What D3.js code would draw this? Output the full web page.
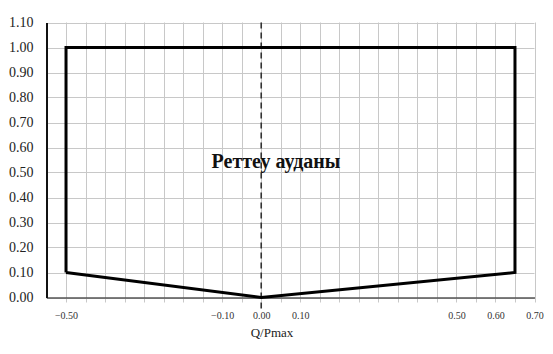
<!DOCTYPE html>
<html>
<head>
<meta charset="utf-8">
<script src="https://cdn.jsdelivr.net/npm/d3@7"></script>
<style>
body { margin: 0; background: #fff; }
svg text { font-family: "Liberation Serif", "Times New Roman", "DejaVu Serif", serif !important; }
</style>
</head>
<body>
<script>
var w = 553;
var h = 354;

// boundary of the regulation area (Q/Pmax, P/Pmax)
var qValues = [-0.50, -0.50, 0.65, 0.65, 0.00, -0.50];
var pValues = [0.10, 1.00, 1.00, 0.10, 0.00, 0.10];

var xTickLabels = [-0.50, -0.10, 0.00, 0.10, 0.50, 0.60, 0.70];
var yTickLabels = [0.00, 0.10, 0.20, 0.30, 0.40, 0.50, 0.60, 0.70, 0.80, 0.90, 1.00, 1.10];
var areaLabel = "Реттеу ауданы";
var xTitle = "Q/Pmax";

var xScale = d3.scaleLinear()
    .domain([-0.55, 0.70])
    .range([46.5, 534.5]);

var yScale = d3.scaleLinear()
    .domain([0, 1.10])
    .range([297.5, 22.5]);

var svg = d3.select("body")
    .append("svg")
    .attr("width", w)
    .attr("height", h);

// vertical grid every 0.05
var xGrid = d3.range(-10, 15).map(function(i) { return i * 0.05; });
svg.selectAll(".vgrid")
    .data(xGrid)
    .enter()
    .append("line")
    .attr("class", "vgrid")
    .attr("x1", function(d) { return Math.round(xScale(d)) + 0.5; })
    .attr("x2", function(d) { return Math.round(xScale(d)) + 0.5; })
    .attr("y1", yScale(1.10))
    .attr("y2", yScale(0) + 5)
    .attr("stroke", "#c8c8c8")
    .attr("stroke-width", 1);

// horizontal grid every 0.10
svg.selectAll(".hgrid")
    .data(yTickLabels)
    .enter()
    .append("line")
    .attr("class", "hgrid")
    .attr("x1", xScale(-0.55))
    .attr("x2", xScale(0.70))
    .attr("y1", function(d) { return Math.round(yScale(d)) + 0.5; })
    .attr("y2", function(d) { return Math.round(yScale(d)) + 0.5; })
    .attr("stroke", "#c8c8c8")
    .attr("stroke-width", 1);

// axes
var xAxis = d3.axisBottom(xScale)
    .tickValues(xTickLabels)
    .tickFormat(d3.format(".2f"))
    .tickSize(0)
    .tickPadding(14);

var yAxis = d3.axisLeft(yScale)
    .tickValues(yTickLabels)
    .tickFormat(d3.format(".2f"))
    .tickSize(0)
    .tickPadding(13);

var gx = svg.append("g")
    .attr("transform", "translate(0," + yScale(0) + ")")
    .call(xAxis);
gx.attr("font-family", null);
gx.select(".domain").attr("stroke", "#555").attr("stroke-width", 1.5);
gx.selectAll("text").attr("font-size", 10).attr("fill", "#333");

var gy = svg.append("g")
    .attr("transform", "translate(" + xScale(-0.55) + ",0)")
    .call(yAxis);
gy.attr("font-family", null);
gy.select(".domain").attr("stroke", "#111").attr("stroke-width", 2);
gy.selectAll("text").attr("font-size", 14).attr("fill", "#222");

// dashed line at Q = 0
svg.append("line")
    .attr("x1", xScale(0))
    .attr("x2", xScale(0))
    .attr("y1", yScale(1.10))
    .attr("y2", yScale(0) + 12)
    .attr("stroke", "#333")
    .attr("stroke-width", 1.6)
    .attr("stroke-dasharray", "6,4");

// boundary polygon
var line = d3.line()
    .x(function(d) { return xScale(d[0]); })
    .y(function(d) { return yScale(d[1]); });

svg.append("path")
    .datum(d3.zip(qValues, pValues))
    .attr("d", line)
    .attr("fill", "none")
    .attr("stroke", "#000")
    .attr("stroke-width", 3)
    .attr("stroke-linejoin", "miter");

svg.append("text")
    .attr("x", 276)
    .attr("y", 168)
    .attr("text-anchor", "middle")
    .attr("font-size", 20)
    .attr("font-weight", "bold")
    .attr("fill", "#111")
    .text(areaLabel);

svg.append("text")
    .attr("x", 272)
    .attr("y", 337)
    .attr("text-anchor", "middle")
    .attr("font-size", 13)
    .attr("fill", "#222")
    .text(xTitle);
</script>
</body>
</html>
